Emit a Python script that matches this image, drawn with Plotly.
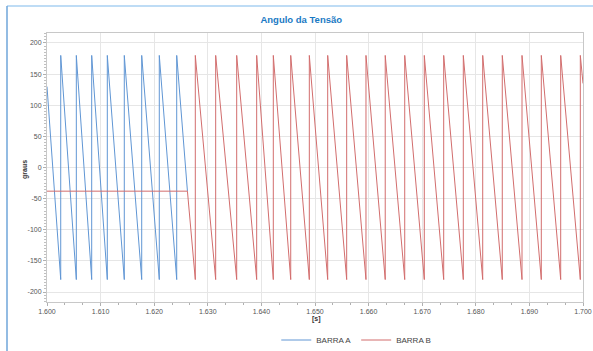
import plotly.graph_objects as go

# ---- data ----
blue_name = "BARRA A"
blue_t = [1.6000, 1.60256, 1.60256, 1.60547, 1.60547, 1.60834, 1.60834,
          1.61125, 1.61125, 1.61442, 1.61442, 1.61767, 1.61767,
          1.62095, 1.62095, 1.62420, 1.62420, 1.6262]
blue_deg = [130, -180, 180, -180, 180, -180, 180,
            -180, 180, -180, 180, -180, 180,
            -180, 180, -180, 180, -38]

red_name = "BARRA B"
red_t = [1.6000, 1.6262, 1.62767, 1.62767, 1.63147, 1.63147, 1.63539, 1.63539,
         1.63912, 1.63912, 1.64222, 1.64222, 1.64547, 1.64547, 1.64894, 1.64894,
         1.65237, 1.65237, 1.65591, 1.65591, 1.65951, 1.65951, 1.66310, 1.66310,
         1.66674, 1.66674, 1.67039, 1.67039, 1.67401, 1.67401, 1.67767, 1.67767,
         1.68129, 1.68129, 1.68494, 1.68494, 1.68862, 1.68862, 1.69222, 1.69222,
         1.69584, 1.69584, 1.69950, 1.69950, 1.7000]
red_deg = [-38, -38, -180, 180, -180, 180, -180, 180,
           -180, 180, -180, 180, -180, 180, -180, 180,
           -180, 180, -180, 180, -180, 180, -180, 180,
           -180, 180, -180, 180, -180, 180, -180, 180,
           -180, 180, -180, 180, -180, 180, -180, 180,
           -180, 180, -180, 180, 135]

x_tick_vals = [1.60, 1.61, 1.62, 1.63, 1.64, 1.65, 1.66, 1.67, 1.68, 1.69, 1.70]
x_tick_text = ["1.600", "1.610", "1.620", "1.630", "1.640", "1.650",
               "1.660", "1.670", "1.680", "1.690", "1.700"]
y_tick_vals = [200, 150, 100, 50, 0, -50, -100, -150, -200]
y_tick_text = ["200", "150", "100", "50", "0", "-50", "-100", "-150", "-200"]

title_text = "Angulo da Tensão"
x_title = "[s]"
y_title = "graus"

FONT = "Liberation Sans, Arial, sans-serif"

fig = go.Figure()
fig.add_trace(go.Scatter(x=blue_t, y=blue_deg, mode="lines", name=blue_name,
                         line=dict(color="#6096d4", width=1)))
fig.add_trace(go.Scatter(x=red_t, y=red_deg, mode="lines", name=red_name,
                         line=dict(color="#d26d6d", width=1)))

axis_common = dict(
    showgrid=True, gridcolor="#e6e6e6", gridwidth=1,
    showline=True, linecolor="#c8c8c8", linewidth=1, mirror=True,
    ticks="outside", tickcolor="#b0b0b0", ticklen=3,
    tickfont=dict(family=FONT, size=7, color="#555555"),
    zeroline=False,
)

fig.update_xaxes(range=[1.6, 1.7], tickvals=x_tick_vals, ticktext=x_tick_text,
                 minor=dict(dtick=0.01 / 3, tick0=1.6, ticks="outside", ticklen=2,
                            tickcolor="#b0b0b0", showgrid=False),
                 **axis_common)
fig.update_yaxes(range=[-216, 216], tickvals=y_tick_vals, ticktext=y_tick_text,
                 minor=dict(dtick=5, tick0=0, ticks="outside", ticklen=2,
                            tickcolor="#c0c0c0", showgrid=False),
                 **axis_common)

fig.update_layout(
    width=593, height=351,
    margin=dict(l=47, r=10, t=33, b=49, autoexpand=False),
    paper_bgcolor="white", plot_bgcolor="white",
    font=dict(family=FONT, size=8, color="#444444"),
    title=dict(text="<b>" + title_text + "</b>", x=0.508, xref="container",
               xanchor="center", y=1 - 20 / 351, yanchor="middle",
               font=dict(family=FONT, size=9.5, color="#1a7ac4")),
    showlegend=True,
    legend=dict(orientation="h", x=0.577, xanchor="center",
                yref="container", y=11 / 351, yanchor="middle",
                font=dict(family=FONT, size=8, color="#444444"),
                bgcolor="rgba(0,0,0,0)", itemwidth=30, tracegroupgap=0),
    annotations=[
        dict(text="<b>" + y_title + "</b>", xref="paper", yref="paper",
             x=(25 - 47) / 536, y=(302 - 170) / 269, showarrow=False,
             xanchor="center", yanchor="middle",
             textangle=-90, font=dict(family=FONT, size=7, color="#333333")),
        dict(text="<b>" + x_title + "</b>", xref="paper", yref="paper",
             x=(316 - 47) / 536, y=(302 - 319) / 269, showarrow=False,
             xanchor="center", yanchor="middle",
             font=dict(family=FONT, size=7, color="#333333")),
    ],
    shapes=[
        dict(type="line", xref="paper", yref="paper",
             x0=(7 - 47) / 536, x1=1.1, y0=(302 - 6) / 269, y1=(302 - 6) / 269,
             line=dict(color="#a8d0f2", width=1.5)),
        dict(type="line", xref="paper", yref="paper",
             x0=(7 - 47) / 536, x1=(7 - 47) / 536, y0=(302 - 6) / 269, y1=-0.3,
             line=dict(color="#6fa6da", width=1.5)),
    ],
)

fig.write_html("out.html", config={"displayModeBar": False},
               post_script="document.body.style.margin='0';document.body.style.padding='0';")
